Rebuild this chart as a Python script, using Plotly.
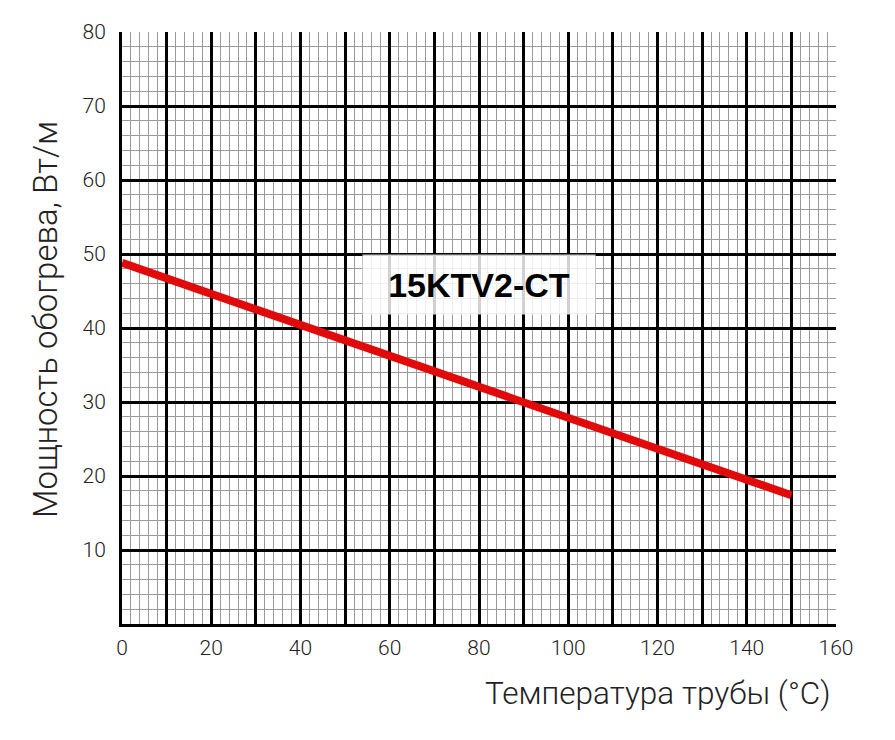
import plotly.graph_objects as go

# data
temperature = [0, 150]
power = [48.8, 17.4]
x_label_vals = [0, 20, 40, 60, 80, 100, 120, 140, 160]
y_label_vals = [0, 10, 20, 30, 40, 50, 60, 70, 80]
y_label_text = ["", "10", "20", "30", "40", "50", "60", "70", "80"]
x_major_grid = list(range(0, 151, 10))
series_name = "15KTV2-CT"

tick_font = dict(family="Roboto", size=21, color="#222222", weight=300)

fig = go.Figure()
fig.add_trace(go.Scatter(x=temperature, y=power, mode="lines",
                         line=dict(color="#e00a0a", width=8),
                         showlegend=False, hoverinfo="skip"))
fig.add_trace(go.Scatter(x=[0, 160], y=[None, None], xaxis="x2",
                         mode="lines", showlegend=False, hoverinfo="skip"))

fig.update_layout(
    width=887, height=732,
    margin=dict(l=114, r=59, t=22, b=116),
    paper_bgcolor="white", plot_bgcolor="white",
    xaxis=dict(range=[0, 160], tickmode="array", tickvals=x_major_grid,
               showticklabels=False, ticks="",
               showgrid=True, gridcolor="#000000", gridwidth=3,
               zeroline=False, showline=True, linecolor="#000000", linewidth=3,
               minor=dict(tickmode="linear", tick0=0, dtick=2, showgrid=True,
                          gridcolor="#9a9a9a", gridwidth=1, ticks="")),
    xaxis2=dict(range=[0, 160], overlaying="x", anchor="y", side="bottom",
                tickmode="array", tickvals=x_label_vals,
                ticks="outside", ticklen=5, tickcolor="rgba(0,0,0,0)",
                tickfont=tick_font, showgrid=False, zeroline=False,
                showline=False),
    yaxis=dict(range=[0, 80], tickmode="array", tickvals=y_label_vals,
               ticktext=y_label_text, ticks="outside", ticklen=9,
               tickcolor="rgba(0,0,0,0)", tickfont=tick_font,
               showgrid=True, gridcolor="#000000", gridwidth=3,
               zeroline=False, showline=True, linecolor="#000000", linewidth=3,
               minor=dict(tickmode="linear", tick0=0, dtick=2, showgrid=True,
                          gridcolor="#9a9a9a", gridwidth=1, ticks="")),
    annotations=[
        dict(x=80, y=45.9, xref="x", yref="y", text="<b>" + series_name + "</b>",
             showarrow=False, font=dict(family="Liberation Sans", size=34, color="#000000"),
             bgcolor="rgba(255,255,255,0.82)", width=230, height=57),
        dict(x=0.996, y=-0.118, xref="paper", yref="paper",
             text="Температура трубы (°C)", showarrow=False,
             xanchor="right", yanchor="middle",
             font=dict(family="Roboto", size=31.5, color="#222222", weight=300)),
        dict(x=-0.108, y=0.515, xref="paper", yref="paper",
             text="Мощность обогрева, Вт/м", showarrow=False, textangle=-90,
             xanchor="center", yanchor="middle",
             font=dict(family="Roboto", size=33, color="#222222", weight=300)),
    ],
)

fig.write_html("out.html")
